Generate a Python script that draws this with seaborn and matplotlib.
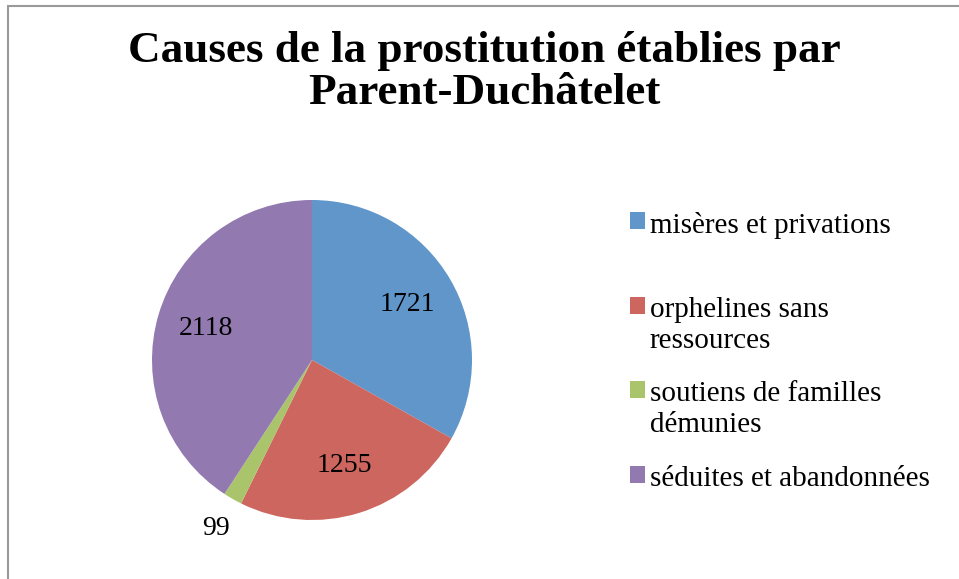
import matplotlib
matplotlib.use("Agg")
import matplotlib.pyplot as plt
import seaborn as sns
import numpy as np
from matplotlib.patches import Rectangle

# ---- data ----
categories = ["misères et privations", "orphelines sans\nressources",
              "soutiens de familles\ndémunies", "séduites et abandonnées"]
values = [1721, 1255, 99, 2118]
colors = ["#6096CA", "#CD665E", "#A9C46B", "#9279B0"]
title = "Causes de la prostitution établies par\nParent-Duchâtelet"

sns.set_theme(style="white")
plt.rcParams['font.family'] = ['Liberation Serif', 'DejaVu Serif']
plt.rcParams['text.color'] = 'black'

W, H = 959, 579
fig = plt.figure(figsize=(W / 100, H / 100), dpi=100)
fig.patch.set_facecolor("white")

# chart-area border (only left and top visible)
fig.patches.append(Rectangle((8 / W, -0.1), 1.2, (H - 6) / H + 0.1,
                             transform=fig.transFigure, fill=False,
                             edgecolor="#9a9a9a", linewidth=1.5))

# ---- pie ----
ax = fig.add_axes([152 / W, 59 / H, 320 / W, 320 / H])
total = sum(values)
wedges, texts, autotexts = ax.pie(
    values, colors=colors, startangle=90, counterclock=False,
    autopct=lambda p: f"{round(p * total / 100)}", pctdistance=0.69,
    wedgeprops=dict(linewidth=0),
    textprops=dict(fontsize=20, color="black"))
ax.set_xlim(-1, 1)
ax.set_ylim(-1, 1)
ax.set_aspect("equal")
ax.axis("off")

# small slice label outside
for w, t, v in zip(wedges, autotexts, values):
    if v / total < 0.05:
        ang = np.deg2rad((w.theta1 + w.theta2) / 2)
        t.set_position((1.21 * np.cos(ang), 1.21 * np.sin(ang)))

# ---- legend ----
# each entry occupies two lines, as in the reference layout
leg_labels = [c if ("\n" in c or i == len(categories) - 1) else c + "\n "
              for i, c in enumerate(categories)]
leg = fig.legend(wedges, leg_labels, loc="upper left",
                 bbox_to_anchor=(604 / W, 1 - 186 / H), frameon=False,
                 fontsize=21, handlelength=0.52, handleheight=0.52,
                 handletextpad=0.15, labelspacing=0.95)
for t in leg.get_texts():
    t.set_linespacing(1.22)
    t.set_color("black")
for col in leg._legend_handle_box.get_children():
    for item in col.get_children():
        item.align = "top"

# ---- title ----
ttl = fig.text(484 / W, 1 - 31 / H, title, ha="center", va="top",
               fontsize=30, fontweight="bold", linespacing=1.05, color="black")

# fit title width to the reference
fig.canvas.draw()
r = fig.canvas.get_renderer()
bw = ttl.get_window_extent(r).width
ttl.set_fontsize(30 * 712 / bw)

fig.savefig("out.png", dpi=100, facecolor="white")
